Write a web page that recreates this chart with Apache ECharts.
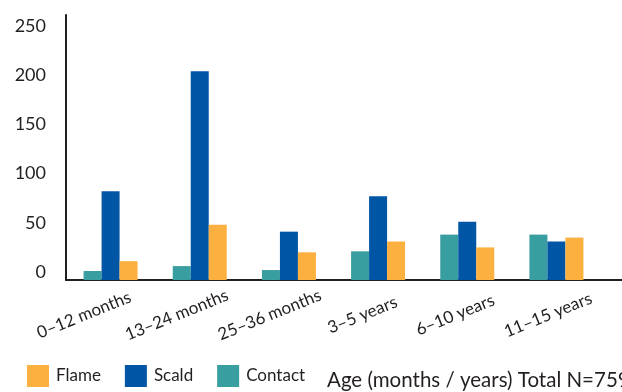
<!DOCTYPE html>
<html>
<head>
<meta charset="utf-8">
<script src="https://cdn.jsdelivr.net/npm/echarts@6/dist/echarts.min.js"></script>
<style>
html,body{margin:0;padding:0;background:#fff;}
#main{width:622px;height:392px;}
</style>
</head>
<body>
<div id="main"></div>
<script>
const categories = ['0–12 months', '13–24 months', '25–36 months', '3–5 years', '6–10 years', '11–15 years'];
const contactValues = [1, 6, 2, 21, 38, 38];
const scaldValues = [82, 204, 41, 77, 51, 31];
const flameValues = [11, 48, 20, 31, 25, 35];
const yTickLabels = [0, 50, 100, 150, 200, 250];
const legendNames = ['Flame', 'Scald', 'Contact'];
const footText = 'Age (months / years) Total N=759';

const FONT = 'Lato';
const INK = '#231F20';
const COLORS = { Flame: '#FBB040', Scald: '#0055A5', Contact: '#389E9F' };

const chart = echarts.init(document.getElementById('main'), null, { renderer: 'canvas' });

const option = {
  backgroundColor: '#ffffff',
  animation: false,
  textStyle: { fontFamily: FONT, color: INK },
  title: {
    text: footText,
    left: 327,
    top: 370,
    padding: 0,
    textStyle: { fontFamily: FONT, fontSize: 20.5, fontWeight: 'normal', color: INK }
  },
  legend: {
    data: legendNames,
    left: 27,
    top: 365,
    padding: 0,
    itemWidth: 22,
    itemHeight: 22,
    itemGap: 24,
    icon: 'rect',
    textStyle: { fontFamily: FONT, fontSize: 17, color: INK, padding: [8, 0, 0, 2] }
  },
  grid: [
    { left: 66, right: 21, top: 15, bottom: 112 },
    { left: 66, right: 0, top: 15, bottom: 112 },
    { left: 37.6, right: 27.6, top: 15, bottom: 112 }
  ],
  xAxis: [
    {
      gridIndex: 0, type: 'category', data: categories, boundaryGap: true,
      axisLine: { show: false }, axisTick: { show: false }, axisLabel: { show: false }, splitLine: { show: false }
    },
    {
      gridIndex: 1, type: 'value', min: 0, max: 1,
      axisLine: { show: true, lineStyle: { color: INK, width: 2 } },
      axisTick: { show: false }, axisLabel: { show: false }, splitLine: { show: false }
    },
    {
      gridIndex: 2, type: 'category', data: categories, boundaryGap: true,
      axisLine: { show: false }, axisTick: { show: false }, splitLine: { show: false },
      axisLabel: {
        interval: 0, rotate: 22, align: 'center', verticalAlign: 'middle', margin: 35,
        fontFamily: FONT, fontSize: 17, color: INK
      }
    }
  ],
  yAxis: [
    {
      gridIndex: 0, type: 'value', min: -8.13, max: 261.2, startValue: -8.13,
      axisLine: { show: true, onZero: false, lineStyle: { color: INK, width: 2 } },
      axisTick: { show: false },
      splitLine: { show: false },
      axisLabel: {
        customValues: yTickLabels, margin: 20,
        fontFamily: FONT, fontSize: 18, color: INK
      }
    },
    { gridIndex: 1, type: 'value', show: false, min: 0, max: 1 },
    { gridIndex: 2, type: 'value', show: false, min: 0, max: 1 }
  ],
  series: [
    { name: 'Contact', type: 'bar', xAxisIndex: 0, yAxisIndex: 0, data: contactValues, barWidth: 18, barGap: '0%', itemStyle: { color: COLORS.Contact } },
    { name: 'Scald', type: 'bar', xAxisIndex: 0, yAxisIndex: 0, data: scaldValues, barWidth: 18, barGap: '0%', itemStyle: { color: COLORS.Scald } },
    { name: 'Flame', type: 'bar', xAxisIndex: 0, yAxisIndex: 0, data: flameValues, barWidth: 18, barGap: '0%', itemStyle: { color: COLORS.Flame } }
  ]
};

chart.setOption(option);
</script>
</body>
</html>
